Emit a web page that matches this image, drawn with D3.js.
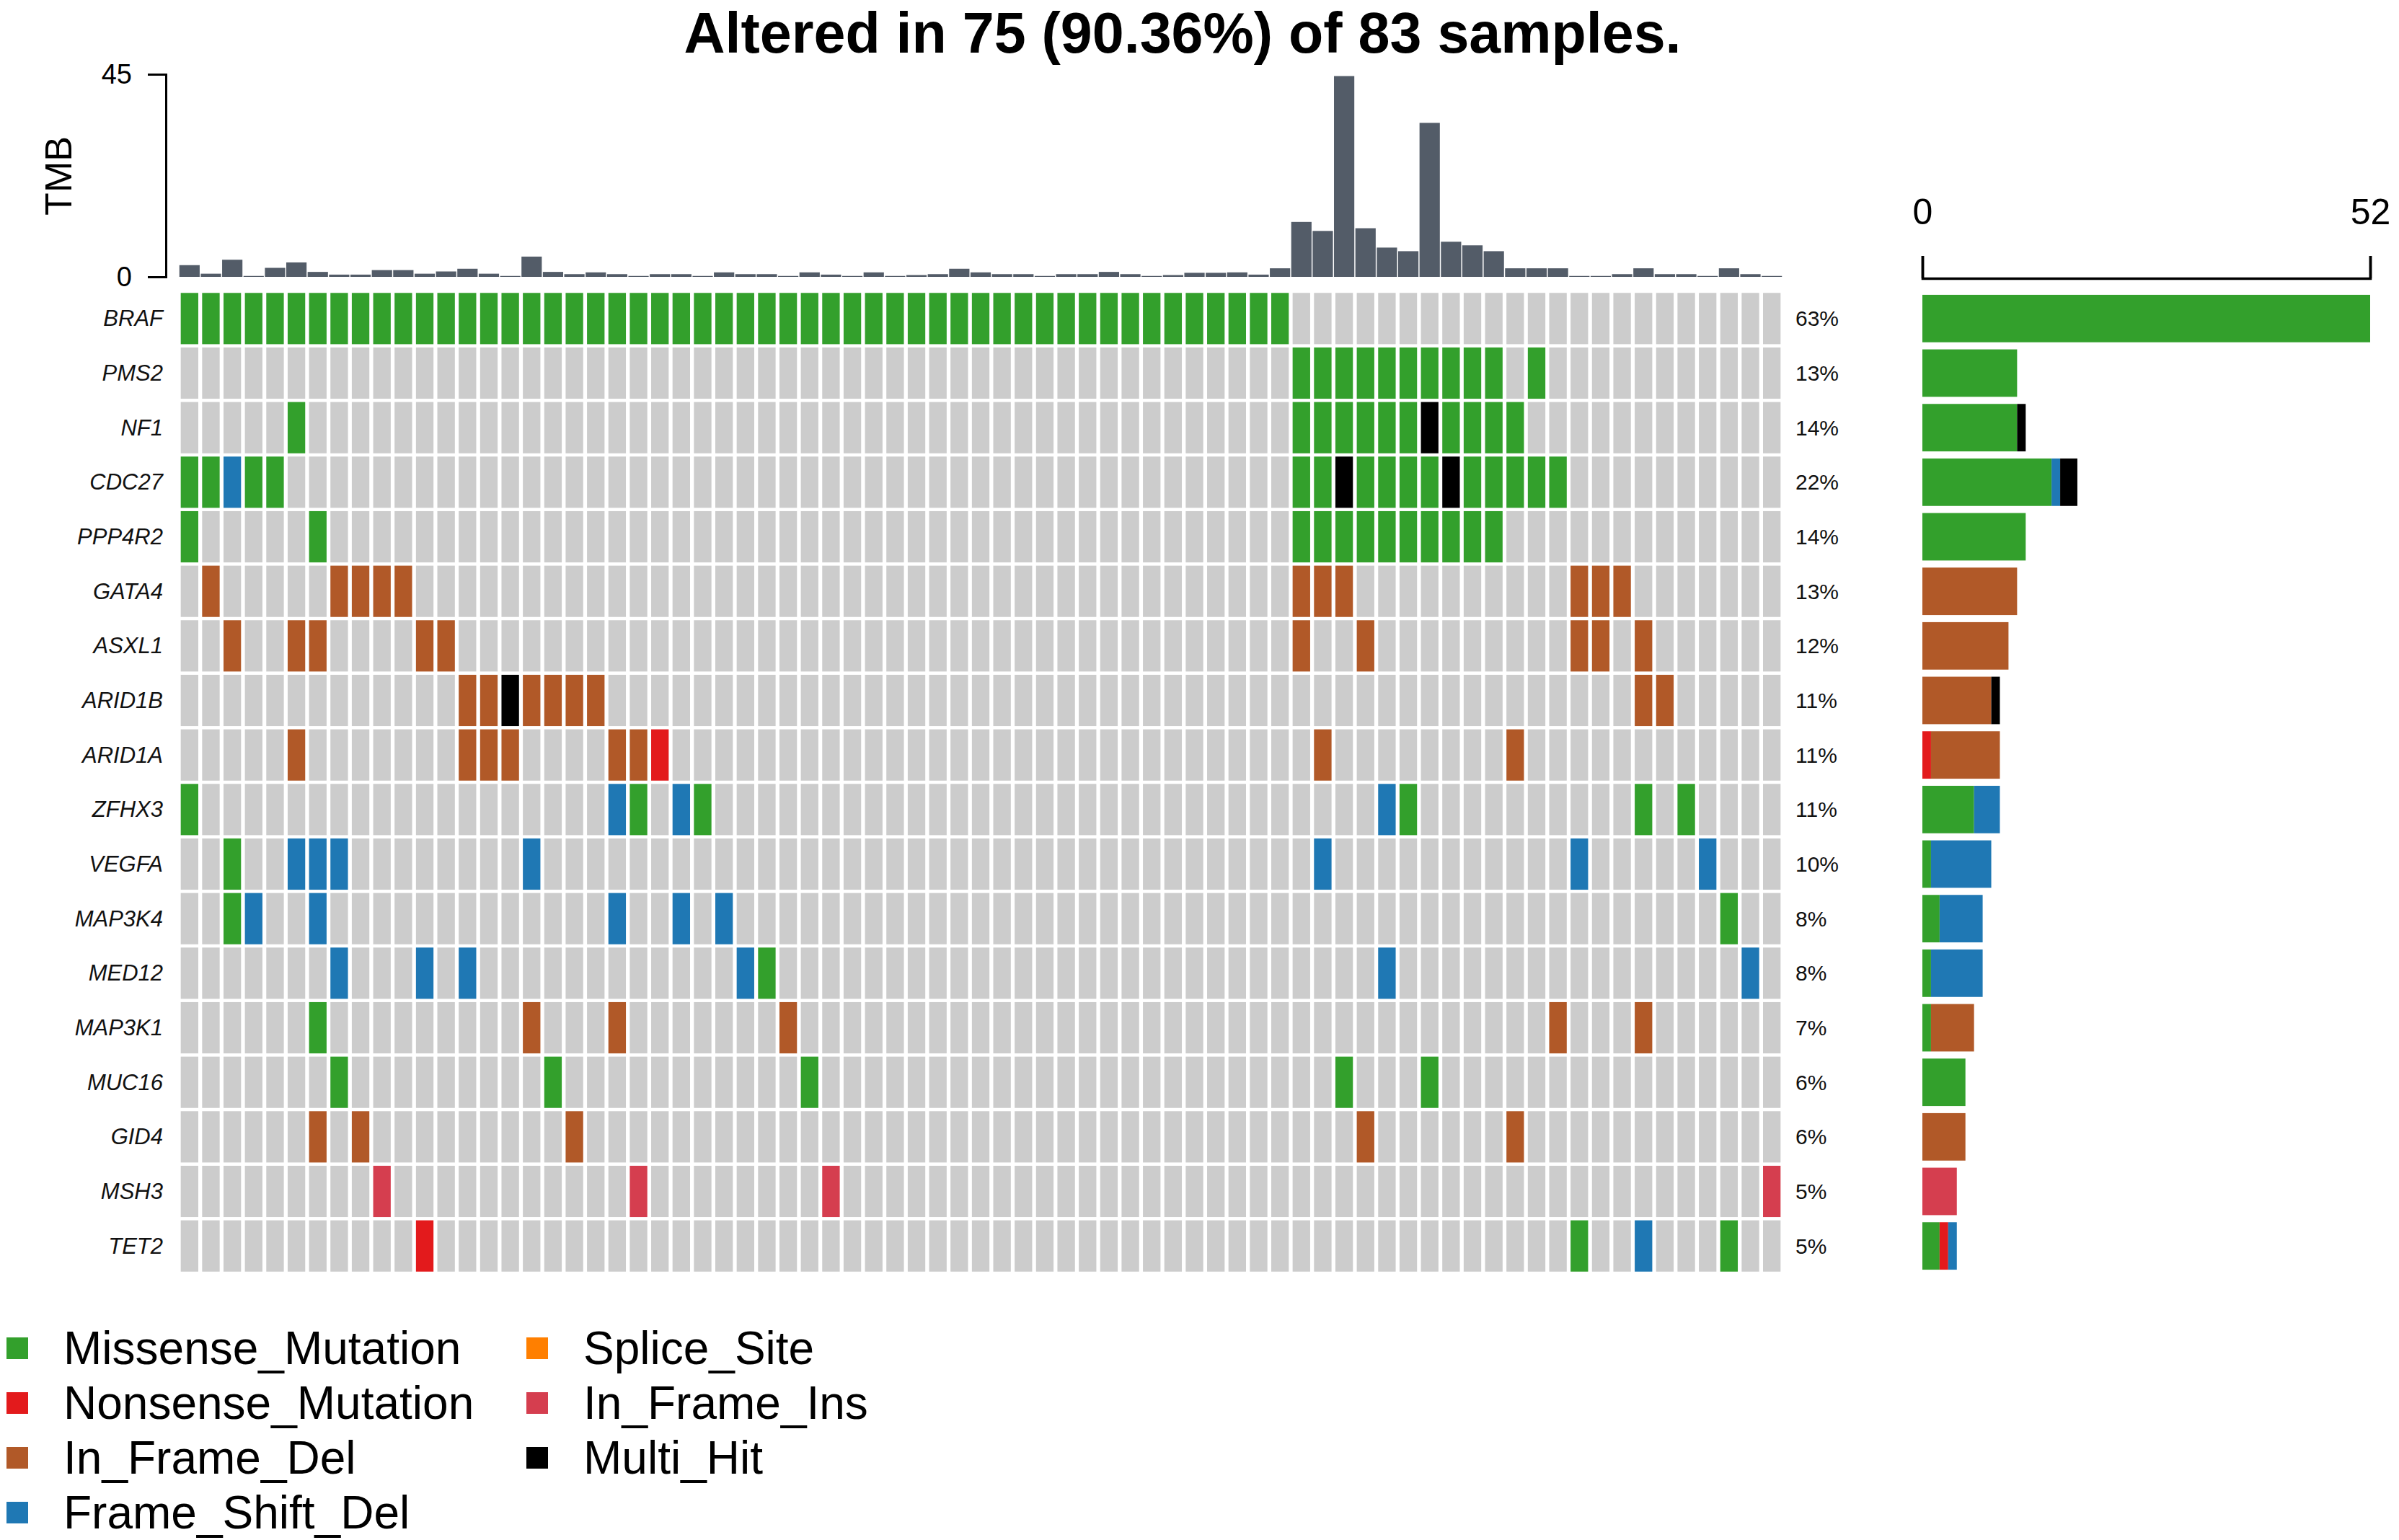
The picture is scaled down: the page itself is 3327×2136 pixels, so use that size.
<!DOCTYPE html>
<html>
<head>
<meta charset="utf-8">
<script src="https://cdn.jsdelivr.net/npm/d3@7"></script>
<style>
  body { margin: 0; background: #fff; }
  text { font-family: "Liberation Sans", Arial, sans-serif; }
</style>
</head>
<body>
<svg id="chart" width="3327" height="2136"></svg>
<script>
// genes in oncoplot order (top to bottom)
const genes = ["BRAF", "PMS2", "NF1", "CDC27", "PPP4R2", "GATA4", "ASXL1", "ARID1B", "ARID1A",
    "ZFHX3", "VEGFA", "MAP3K4", "MED12", "MAP3K1", "MUC16", "GID4", "MSH3", "TET2"];

const pctLabels = ["63%", "13%", "14%", "22%", "14%", "13%", "12%", "11%", "11%",
    "11%", "10%", "8%", "8%", "7%", "6%", "6%", "5%", "5%"];

// tumour mutation burden per sample (75 altered samples, left to right)
const tmb = [2.6, 0.7, 3.8, 0.2, 2.0, 3.2, 1.1, 0.5, 0.5, 1.5,
    1.5, 0.7, 1.2, 1.8, 0.7, 0.2, 4.5, 1.1, 0.6, 1.0,
    0.6, 0.2, 0.6, 0.6, 0.2, 1.0, 0.6, 0.6, 0.2, 1.0,
    0.5, 0.2, 1.0, 0.2, 0.4, 0.6, 1.8, 1.0, 0.6, 0.6,
    0.2, 0.6, 0.6, 1.1, 0.6, 0.2, 0.4, 0.9, 0.9, 1.0,
    0.5, 1.9, 12.2, 10.2, 44.6, 10.8, 6.5, 5.7, 34.2, 7.8,
    7.0, 5.7, 1.9, 1.9, 1.9, 0.2, 0.2, 0.6, 1.9, 0.6,
    0.6, 0.2, 1.9, 0.6, 0.2];

// one string per gene, one char per sample, grouped by 10
// M missense, N nonsense, D in-frame del, F frame shift del, S splice, I in-frame ins, X multi hit
const mutRows = [
    "MMMMMMMMMM MMMMMMMMMM MMMMMMMMMM MMMMMMMMMM MMMMMMMMMM MM........ .......... .....", // BRAF
    ".......... .......... .......... .......... .......... ..MMMMMMMM MM.M...... .....", // PMS2
    ".....M.... .......... .......... .......... .......... ..MMMMMMXM MMM....... .....", // NF1
    "MMFMM..... .......... .......... .......... .......... ..MMXMMMMX MMMMM..... .....", // CDC27
    "M.....M... .......... .......... .......... .......... ..MMMMMMMM MM........ .....", // PPP4R2
    ".D.....DDD D......... .......... .......... .......... ..DDD..... .....DDD.. .....", // GATA4
    "..D..DD... .DD....... .......... .......... .......... ..D..D.... .....DD.D. .....", // ASXL1
    ".......... ...DDXDDDD .......... .......... .......... .......... ........DD .....", // ARID1B
    ".....D.... ...DDD.... DDN....... .......... .......... ...D...... ..D....... .....", // ARID1A
    "M......... .......... FM.FM..... .......... .......... ......FM.. ........M. M....", // ZFHX3
    "..M..FFF.. ......F... .......... .......... .......... ...F...... .....F.... .F...", // VEGFA
    "..MF..F... .......... F..F.F.... .......... .......... .......... .......... ..M..", // MAP3K4
    ".......F.. .F.F...... ......FM.. .......... .......... ......F... .......... ...F.", // MED12
    "......M... ......D... D.......D. .......... .......... .......... ....D...D. .....", // MAP3K1
    ".......M.. .......M.. .........M .......... .......... ....M...M. .......... .....", // MUC16
    "......D.D. ........D. .......... .......... .......... .....D.... ..D....... .....", // GID4
    ".........I .......... .I........ I......... .......... .......... .......... ....I", // MSH3
    ".......... .N........ .......... .......... .......... .......... .....M..F. ..M.."  // TET2
];

const vcCodes = ["M", "N", "D", "F", "S", "I", "X"];
const vcNames = ["Missense_Mutation", "Nonsense_Mutation", "In_Frame_Del", "Frame_Shift_Del",
    "Splice_Site", "In_Frame_Ins", "Multi_Hit"];
const vcColors = ["#33A02C", "#E31A1C", "#B15928", "#1F78B4", "#FF7F00", "#D53E4F", "#000000"];

const titleText = "Altered in 75 (90.36%) of 83 samples.";

const svg = d3.select("#chart");
svg.append("rect").attr("width", 3327).attr("height", 2136).attr("fill", "#fff");

const colorOf = d3.scaleOrdinal().domain(vcCodes).range(vcColors);
const cols = d3.range(tmb.length);
const rows = mutRows.map(r => r.replace(/ /g, ""));

// title
svg.append("text")
    .attr("x", 1640).attr("y", 73)
    .attr("text-anchor", "middle")
    .attr("font-size", 79).attr("font-weight", "bold")
    .text(titleText);

// oncoplot grid
const x = d3.scaleBand().domain(cols).range([248, 2472]).paddingInner(0.18).paddingOuter(0.09);
const y = d3.scaleBand().domain(genes).range([404, 1766]).paddingInner(0.06).paddingOuter(0.03);

const cells = [];
genes.forEach((g, i) => {
    cols.forEach(c => cells.push({ gene: g, col: c, code: rows[i][c] }));
});

svg.append("g").selectAll("rect")
    .data(cells)
    .join("rect")
    .attr("x", d => x(d.col))
    .attr("y", d => y(d.gene))
    .attr("width", x.bandwidth())
    .attr("height", y.bandwidth())
    .attr("fill", d => d.code === "." ? "#CCCCCC" : colorOf(d.code));

// gene names
svg.append("g").selectAll("text")
    .data(genes)
    .join("text")
    .attr("x", 226)
    .attr("y", d => y(d) + y.bandwidth() / 2)
    .attr("text-anchor", "end")
    .attr("dominant-baseline", "central")
    .attr("font-size", 31).attr("font-style", "italic")
    .attr("fill", "#111")
    .text(d => d);

// percentages
svg.append("g").selectAll("text")
    .data(genes)
    .join("text")
    .attr("x", 2490)
    .attr("y", d => y(d) + y.bandwidth() / 2)
    .attr("dominant-baseline", "central")
    .attr("font-size", 30)
    .attr("fill", "#111")
    .text((d, i) => pctLabels[i]);

// TMB bars on top
const xt = d3.scaleBand().domain(cols).range([248, 2472]).paddingInner(0.05).paddingOuter(0.025);
const yt = d3.scaleLinear().domain([0, 45]).range([384, 103]);

svg.append("g").selectAll("rect")
    .data(tmb)
    .join("rect")
    .attr("x", (d, i) => xt(i))
    .attr("y", d => yt(d))
    .attr("width", xt.bandwidth())
    .attr("height", d => yt(0) - yt(d))
    .attr("fill", "#535c68");

const tmbAxis = svg.append("g")
    .attr("transform", "translate(230,0)")
    .call(d3.axisLeft(yt).tickValues([0, 45]).tickSize(25).tickPadding(22));
tmbAxis.selectAll("path, line").attr("stroke-width", 3);
tmbAxis.selectAll("text").attr("font-size", 38);

svg.append("text")
    .attr("transform", "translate(81,244) rotate(-90)")
    .attr("text-anchor", "middle")
    .attr("dominant-baseline", "central")
    .attr("font-size", 52)
    .text("TMB");

// side bars: count of each variant type per gene
const counts = genes.map((g, i) => {
    const o = { gene: g };
    vcCodes.forEach(k => { o[k] = rows[i].split("").filter(ch => ch === k).length; });
    return o;
});
const series = d3.stack().keys(vcCodes)(counts);

const xc = d3.scaleLinear().domain([0, 52]).range([2666, 3287]);
const yb = d3.scaleBand().domain(genes).range([404, 1766]).paddingInner(0.13).paddingOuter(0.065);

svg.append("g").selectAll("g")
    .data(series)
    .join("g")
    .attr("fill", s => colorOf(s.key))
    .selectAll("rect")
    .data(s => s)
    .join("rect")
    .attr("x", d => xc(d[0]))
    .attr("y", d => yb(d.data.gene))
    .attr("width", d => xc(d[1]) - xc(d[0]))
    .attr("height", yb.bandwidth());

const sideAxis = svg.append("g")
    .attr("transform", "translate(0,386)")
    .call(d3.axisTop(xc).tickValues([0, 52]).tickSize(31).tickPadding(44));
sideAxis.selectAll("path, line").attr("stroke-width", 3.5);
sideAxis.selectAll("text").attr("font-size", 50);

// legend, two columns
const legend = svg.append("g");
const legItems = vcNames.map((n, i) => ({
    name: n, color: vcColors[i],
    colIdx: i < 4 ? 0 : 1,
    rowIdx: i < 4 ? i : i - 4
}));
const legX = [24, 745];
const legY = d3.scaleLinear().domain([0, 1]).range([1870, 1946]);

legend.selectAll("rect")
    .data(legItems)
    .join("rect")
    .attr("x", d => legX[d.colIdx] - 15)
    .attr("y", d => legY(d.rowIdx) - 15)
    .attr("width", 30).attr("height", 30)
    .attr("fill", d => d.color);

legend.selectAll("text")
    .data(legItems)
    .join("text")
    .attr("x", d => legX[d.colIdx] + 64)
    .attr("y", d => legY(d.rowIdx))
    .attr("dominant-baseline", "central")
    .attr("font-size", 64)
    .text(d => d.name);
</script>
</body>
</html>
